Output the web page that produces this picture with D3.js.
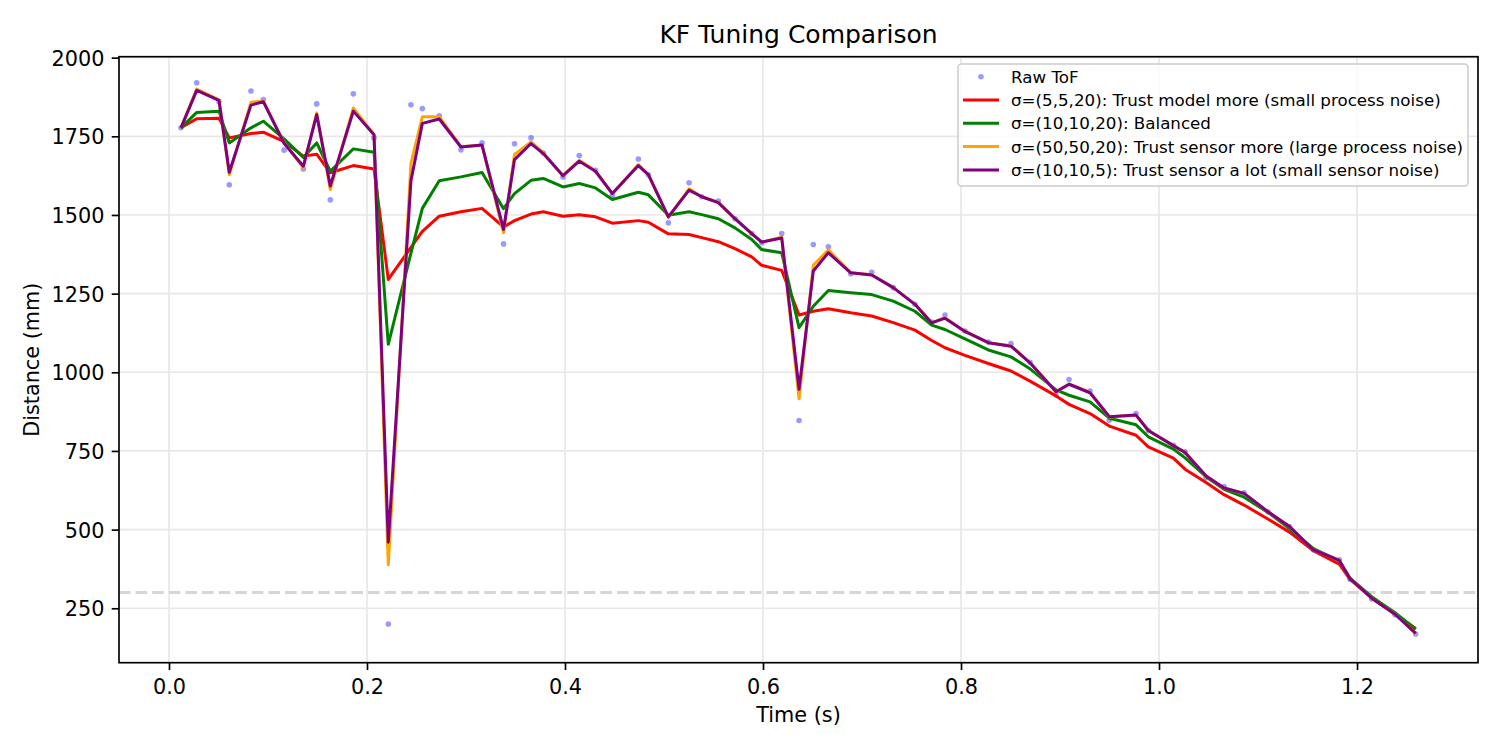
<!DOCTYPE html>
<html><head><meta charset="utf-8">
<script src="https://cdn.jsdelivr.net/npm/d3@7"></script>
<style>
body{margin:0;background:#fff}
svg text{font-family:"DejaVu Sans",sans-serif;fill:#000}
</style>
</head><body>
<svg id="chart" width="1500" height="750"></svg>
<script>
// ---- data ----
const timeS = [0.0121,0.0280,0.0505,0.0609,0.0828,0.0953,0.1162,0.1357,0.1492,0.1629,
  0.1862,0.2071,0.2215,0.2444,0.2559,0.2730,0.2949,0.3162,0.3379,0.3490,
  0.3657,0.3781,0.3980,0.4144,0.4308,0.4478,0.4741,0.4842,0.5044,0.5253,
  0.5381,0.5549,0.5717,0.5886,0.5987,0.6189,0.6364,0.6508,0.6660,0.6886,
  0.7098,0.7316,0.7535,0.7704,0.7838,0.8040,0.8276,0.8505,0.8697,0.8960,
  0.9091,0.9303,0.9498,0.9768,0.9892,1.0145,1.0263,1.0475,1.0657,1.0859,
  1.1104,1.1318,1.1558,1.1821,1.1929,1.2148,1.2384,1.2593];
const rawTof = [1777,1920,1860,1596,1894,1867,1706,1646,1853,1548,
  1885,1745,200,1850,1838,1815,1707,1729,1408,1726,
  1745,1697,1621,1689,1642,1562,1678,1628,1475,1602,
  1558,1544,1488,1441,1412,1441,847,1406,1399,1313,
  1318,1269,1216,1160,1182,1131,1096,1091,1032,928,
  977,940,848,869,815,768,747,665,637,617,
  556,510,436,404,342,280,229,168];
const kfModel = [1777,1806,1807,1745,1759,1763,1733,1687,1693,1634,
  1657,1646,1295,1397,1448,1496,1510,1521,1462,1482,
  1503,1510,1496,1501,1494,1474,1482,1477,1440,1438,
  1428,1415,1393,1367,1340,1324,1182,1194,1202,1189,
  1179,1158,1134,1101,1078,1054,1028,1004,972,925,
  898,869,829,800,763,727,692,650,611,578,
  533,492,433,390,342,284,232,186];
const kfBalanced = [1777,1826,1830,1729,1777,1798,1742,1683,1729,1639,
  1710,1699,1089,1379,1521,1609,1621,1635,1520,1568,
  1610,1616,1589,1600,1586,1549,1572,1564,1499,1510,
  1501,1488,1459,1422,1390,1380,1142,1210,1260,1253,
  1247,1226,1194,1150,1136,1106,1071,1049,1011,944,
  927,906,854,833,795,756,728,668,628,603,
  554,503,440,401,346,287,236,183];
const kfSensor = [1777,1900,1866,1628,1858,1862,1730,1650,1824,1581,
  1840,1755,388,1664,1812,1812,1717,1722,1443,1692,
  1732,1697,1625,1674,1640,1567,1660,1628,1492,1583,
  1558,1540,1488,1441,1414,1429,916,1340,1389,1316,
  1310,1269,1216,1158,1173,1130,1094,1084,1030,937,
  963,936,858,864,815,767,745,670,632,615,
  556,510,436,402,344,282,231,170];
const kfSensorLot = [1777,1896,1864,1636,1849,1860,1728,1655,1819,1592,
  1830,1755,460,1609,1791,1805,1716,1722,1454,1676,
  1727,1695,1625,1671,1639,1568,1657,1628,1494,1579,
  1558,1539,1488,1441,1414,1427,946,1322,1380,1316,
  1309,1269,1216,1157,1172,1130,1094,1083,1030,938,
  962,935,859,864,815,767,745,670,632,615,
  556,510,436,402,344,282,231,170];
const seriesLabels = ["σ=(5,5,20): Trust model more (small process noise)",
  "σ=(10,10,20): Balanced",
  "σ=(50,50,20): Trust sensor more (large process noise)",
  "σ=(10,10,5): Trust sensor a lot (small sensor noise)"];
const seriesColors = ["red","green","orange","purple"];
const rawLabel = "Raw ToF";
const xTicks = [0.0,0.2,0.4,0.6,0.8,1.0,1.2];
const yTicks = [250,500,750,1000,1250,1500,1750,2000];
const thresholdMm = 300;

// ---- layout ----
const L = 119, R = 1478, T = 56.7, B = 662.7;
const svg = d3.select("#chart");
const x = d3.scaleLinear().domain([-0.0505, 1.3222]).range([L, R]);
const y = d3.scaleLinear().domain([77, 2003]).range([B, T]);

// grid
const grid = svg.append("g");
grid.selectAll("line.gx").data(xTicks).join("line")
  .attr("x1", d => x(d)).attr("x2", d => x(d)).attr("y1", T).attr("y2", B)
  .attr("stroke", "#e7e7e7").attr("stroke-width", 1.67);
grid.selectAll("line.gy").data(yTicks).join("line")
  .attr("x1", L).attr("x2", R).attr("y1", d => y(d)).attr("y2", d => y(d))
  .attr("stroke", "#e7e7e7").attr("stroke-width", 1.67);

const plot = svg.append("g");
// raw points
plot.selectAll("circle").data(timeS.map((t, i) => [t, rawTof[i]])).join("circle")
  .attr("cx", d => x(d[0])).attr("cy", d => y(d[1])).attr("r", 2.8)
  .attr("fill", "blue").attr("fill-opacity", 0.4);

// threshold line
plot.append("line").attr("x1", L).attr("x2", R)
  .attr("y1", y(thresholdMm)).attr("y2", y(thresholdMm))
  .attr("stroke", "#d6d6d6").attr("stroke-width", 3.1).attr("stroke-dasharray", "11.6,5");

const seriesData = [kfModel, kfBalanced, kfSensor, kfSensorLot];
const line = d3.line().x((d, i) => x(timeS[i])).y(d => y(d));
seriesData.forEach((s, k) => {
  plot.append("path").datum(s).attr("d", line)
    .attr("fill", "none").attr("stroke", seriesColors[k])
    .attr("stroke-width", 3).attr("stroke-linejoin", "round").attr("stroke-linecap", "butt");
});

// axes
const xAxis = svg.append("g").attr("transform", `translate(0,${B})`)
  .call(d3.axisBottom(x).tickValues(xTicks).tickFormat(d3.format(".1f")).tickSize(7.3).tickSizeOuter(0));
xAxis.select(".domain").remove();
xAxis.selectAll(".tick line").attr("stroke", "#000").attr("stroke-width", 1.67);
xAxis.selectAll(".tick text").attr("y", 31.3).attr("dy", null)
  .style("font-size", "20.8px").style("font-family", "'DejaVu Sans'");

const yAxis = svg.append("g").attr("transform", `translate(${L},0)`)
  .call(d3.axisLeft(y).tickValues(yTicks).tickFormat(d3.format("d")).tickSize(7.3).tickSizeOuter(0));
yAxis.select(".domain").remove();
yAxis.selectAll(".tick line").attr("stroke", "#000").attr("stroke-width", 1.67);
yAxis.selectAll(".tick text").attr("x", -14.5).attr("dy", "0.36em")
  .style("font-size", "20.8px").style("font-family", "'DejaVu Sans'");

// frame
svg.append("rect").attr("x", L).attr("y", T).attr("width", R - L).attr("height", B - T)
  .attr("fill", "none").attr("stroke", "#000").attr("stroke-width", 1.67);

// titles
svg.append("text").attr("x", (L + R) / 2).attr("y", 43).attr("text-anchor", "middle")
  .style("font-size", "25px").text("KF Tuning Comparison");
svg.append("text").attr("x", (L + R) / 2).attr("y", 722).attr("text-anchor", "middle")
  .style("font-size", "20.8px").text("Time (s)");
svg.append("text").attr("transform", `translate(39,${(T + B) / 2}) rotate(-90)`)
  .attr("text-anchor", "middle").style("font-size", "20.8px").text("Distance (mm)");

// legend
const lg = svg.append("g");
const lgL = 958, lgR = 1468, lgT = 64, lgB = 186;
lg.append("rect").attr("x", lgL).attr("y", lgT).attr("width", lgR - lgL).attr("height", lgB - lgT)
  .attr("rx", 3.5).attr("fill", "#fff").attr("fill-opacity", 0.8)
  .attr("stroke", "#cccccc").attr("stroke-width", 1.5);
const rowY = i => 76.7 + i * 23.3;
lg.append("circle").attr("cx", 981).attr("cy", rowY(0)).attr("r", 2.8)
  .attr("fill", "blue").attr("fill-opacity", 0.4);
lg.append("text").attr("x", 1011).attr("y", rowY(0)).attr("dy", "0.36em")
  .style("font-size", "16.7px").text(rawLabel);
seriesLabels.forEach((lab, i) => {
  lg.append("line").attr("x1", 963).attr("x2", 999).attr("y1", rowY(i + 1)).attr("y2", rowY(i + 1))
    .attr("stroke", seriesColors[i]).attr("stroke-width", 3);
  lg.append("text").attr("x", 1011).attr("y", rowY(i + 1)).attr("dy", "0.36em")
    .style("font-size", "16.7px").text(lab);
});
</script>
</body></html>
